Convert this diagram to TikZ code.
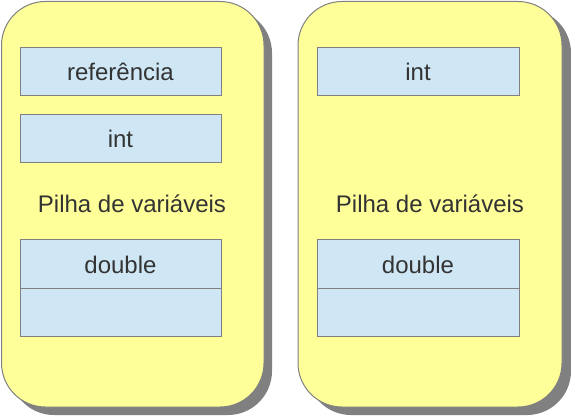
\documentclass[tikz,border=0pt]{standalone}
\usepackage{fontspec}
\setmainfont{Liberation Sans}
\definecolor{panelY}{HTML}{FFFF99}
\definecolor{boxB}{HTML}{CFE7F5}
\definecolor{edgeG}{HTML}{808080}
\definecolor{txtG}{HTML}{333333}
\begin{document}
\begin{tikzpicture}[x=1pt,y=-1pt,
  panel/.style={fill=panelY,draw=edgeG,line width=1pt,rounded corners=44pt},
  shade/.style={fill=edgeG,rounded corners=44pt},
  cell/.style={fill=boxB,draw=edgeG,line width=1pt},
  lbl/.style={text=txtG,font=\fontsize{24}{28}\selectfont}]
\useasboundingbox (0,0) rectangle (571,417);
% shadows
\fill[shade] (10,9) rectangle (272,415);
\fill[shade] (307,9) rectangle (571,415);
% panels
\draw[panel] (1.5,1.5) rectangle (264,407);
\draw[panel] (298,1.5) rectangle (562,407);
% left cells
\draw[cell] (20,48) rectangle (221,96);
\node[lbl] (lref) at (120.5,72) {referência};
\draw[cell] (20,115) rectangle (221,163);
\node[lbl] (lint) at (120.5,139) {int};
\node[lbl] (lpilha) at (132,204) {Pilha de variáveis};
\draw[cell] (20,240) rectangle (221,288);
\node[lbl] (ldouble) at (120.5,265) {double};
\draw[cell] (20,288) rectangle (221,336);
% right cells
\draw[cell] (317,48) rectangle (519,96);
\node[lbl] (rint) at (418,72) {int};
\node[lbl] (rpilha) at (430,204) {Pilha de variáveis};
\draw[cell] (317,240) rectangle (519,288);
\node[lbl] (rdouble) at (418,265) {double};
\draw[cell] (317,288) rectangle (519,336);
\end{tikzpicture}
\end{document}
